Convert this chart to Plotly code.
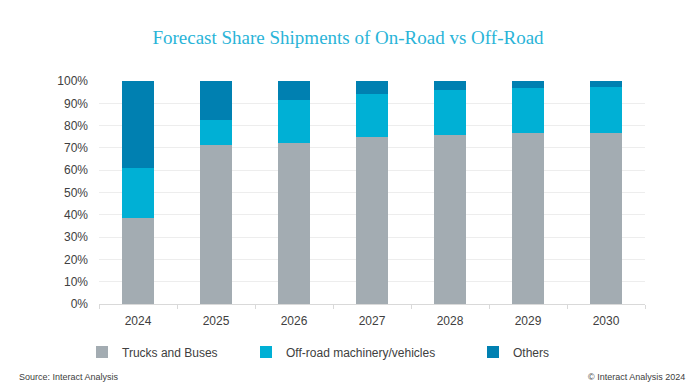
import plotly.graph_objects as go

years = ["2024", "2025", "2026", "2027", "2028", "2029", "2030"]
trucks = [38.7, 71.2, 72.0, 75.0, 76.0, 76.8, 76.8]
offroad = [22.3, 11.3, 19.6, 19.2, 19.8, 20.2, 20.7]
others = [39.0, 17.5, 8.4, 5.8, 4.2, 3.0, 2.5]

series = [
    ("Trucks and Buses", trucks, "#A3ACB2", "legend"),
    ("Off-road machinery/vehicles", offroad, "#00B0D5", "legend2"),
    ("Others", others, "#0080B1", "legend3"),
]

FONT = "Liberation Sans, Arial, sans-serif"

fig = go.Figure()
for name, vals, color, lg in series:
    fig.add_trace(go.Bar(
        x=years, y=[v / 100 for v in vals], name=name,
        marker=dict(color=color, line=dict(width=0)),
        legend=lg, showlegend=True,
    ))

legend_common = dict(orientation="h", yanchor="middle", xanchor="left",
                     font=dict(family=FONT, size=12, color="#404040"),
                     bgcolor="rgba(0,0,0,0)", itemwidth=30, tracegroupgap=0,
                     visible=True)

# page body has an 8px offset, so the figure is 8px smaller and shifted
fig.update_layout(
    width=688, height=377,
    margin=dict(l=91, r=51, t=73, b=81, autoexpand=False),
    paper_bgcolor="white", plot_bgcolor="white",
    showlegend=True,
    barmode="stack", bargap=0.6,
    font=dict(family=FONT, size=12, color="#404040"),
    title=dict(text="Forecast Share Shipments of On-Road vs Off-Road",
               x=(348 - 8) / 688, xanchor="center", y=1 - (37 - 8) / 377, yanchor="middle",
               font=dict(family="Liberation Serif, DejaVu Serif, serif", size=19, color="#2AB4D8")),
    xaxis=dict(type="category", showgrid=False, showline=True, linecolor="#D9D9D9",
               ticks="outside", tickcolor="#D9D9D9", ticklen=4, tickson="boundaries",
               tickfont=dict(size=12, color="#404040"), ticklabelstandoff=6),
    yaxis=dict(range=[0, 1], tickformat=".0%", dtick=0.1, showgrid=True,
               gridcolor="#EDEDED", gridwidth=1, zeroline=False, showline=False,
               tickfont=dict(size=12, color="#404040"), ticklabelstandoff=10),
    legend=dict(x=(82 - 99) / 546, y=-(352 - 304) / 223, **legend_common),
    legend2=dict(x=(246 - 99) / 546, y=-(352 - 304) / 223, **legend_common),
    legend3=dict(x=(473 - 99) / 546, y=-(352 - 304) / 223, **legend_common),
    annotations=[
        dict(text="Source: Interact Analysis", xref="paper", yref="paper",
             x=-(99 - 17) / 546, y=-(377 - 304) / 223, xanchor="left", yanchor="middle",
             showarrow=False, font=dict(size=9, color="#404040")),
        dict(text="© Interact Analysis 2024", xref="paper", yref="paper",
             x=1 + (687 - 645) / 546, y=-(377 - 304) / 223, xanchor="right", yanchor="middle",
             showarrow=False, font=dict(size=9, color="#404040")),
    ],
)

fig.write_html("out.html")
